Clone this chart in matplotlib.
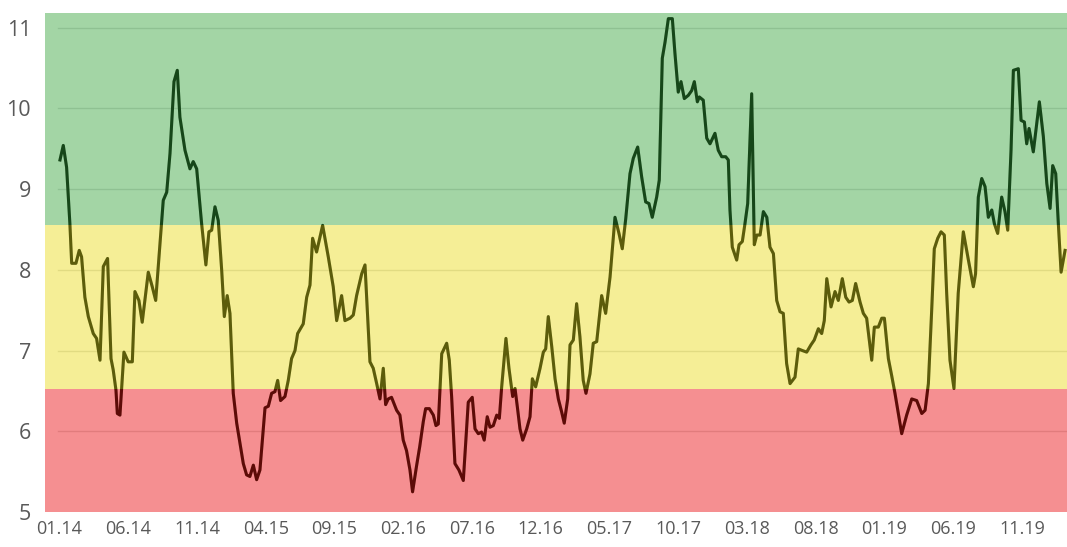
import matplotlib
matplotlib.use("Agg")
import matplotlib.pyplot as plt

# months since Jan 2014 and the index value
months = [0.04, 0.28, 0.52, 0.76, 0.89, 1.2, 1.44, 1.61, 1.85, 2.1, 2.46, 2.7, 2.95,
          3.19, 3.5, 3.75, 3.91, 4.11, 4.21, 4.4, 4.69, 5.0, 5.3, 5.49, 5.78, 6.02,
          6.46, 6.75, 7.0, 7.31, 7.55, 7.8, 8.04, 8.33, 8.57, 8.76, 9.13, 9.49, 9.73,
          9.98, 10.34, 10.65, 10.87, 11.07, 11.31, 11.55, 11.8, 11.99, 12.2, 12.4,
          12.64, 12.89, 13.13, 13.37, 13.61, 13.85, 14.1, 14.34, 14.58, 14.95, 15.19,
          15.43, 15.67, 15.87, 16.08, 16.4, 16.64, 16.88, 17.13, 17.32, 17.73, 17.98,
          18.22, 18.41, 18.7, 19.14, 19.55, 19.91, 20.16, 20.52, 20.76, 21.13, 21.37,
          21.61, 21.98, 22.22, 22.58, 22.82, 23.07, 23.31, 23.55, 23.72, 23.91, 24.15,
          24.52, 24.76, 25.0, 25.24, 25.49, 25.68, 25.96, 26.2, 26.46, 26.63, 26.9,
          27.19, 27.38, 27.55, 27.8, 28.16, 28.35, 28.52, 28.76, 29.05, 29.37, 29.73,
          30.02, 30.22, 30.46, 30.7, 30.89, 31.11, 31.31, 31.55, 31.8, 31.99, 32.16,
          32.47, 32.69, 32.96, 33.13, 33.3, 33.49, 33.69, 33.98, 34.22, 34.39, 34.63,
          34.95, 35.19, 35.36, 35.55, 35.8, 36.04, 36.28, 36.52, 36.71, 36.96, 37.13,
          37.37, 37.61, 37.85, 38.09, 38.29, 38.58, 38.82, 39.07, 39.43, 39.72, 40.04,
          40.4, 40.69, 40.93, 41.18, 41.49, 41.73, 42.05, 42.34, 42.63, 42.87, 43.11,
          43.43, 43.62, 43.84, 44.04, 44.28, 44.57, 44.76, 45.0, 45.2, 45.44, 45.73,
          45.98, 46.17, 46.39, 46.53, 46.82, 47.07, 47.31, 47.67, 47.91, 48.16, 48.45,
          48.64, 48.76, 48.93, 49.25, 49.42, 49.66, 49.85, 50.05, 50.34, 50.53, 50.71,
          50.95, 51.19, 51.44, 51.67, 51.92, 52.16, 52.4, 52.64, 52.88, 53.13, 53.49,
          53.73, 54.02, 54.34, 54.65, 54.89, 55.19, 55.43, 55.62, 55.8, 56.11, 56.4,
          56.64, 56.93, 57.18, 57.42, 57.66, 57.9, 58.22, 58.46, 58.7, 59.07, 59.26,
          59.55, 59.8, 59.99, 60.28, 60.52, 60.76, 61.25, 61.61, 61.98, 62.34, 62.71,
          62.95, 63.19, 63.43, 63.62, 63.87, 64.11, 64.35, 64.52, 64.76, 65.05, 65.36,
          65.73, 66.1, 66.46, 66.62, 66.82, 67.07, 67.31, 67.55, 67.8, 67.99, 68.23,
          68.52, 68.76, 68.96, 69.2, 69.37, 69.73, 69.93, 70.17, 70.34, 70.51, 70.82,
          71.07, 71.26, 71.55, 71.8, 72.04, 72.23, 72.45, 72.64, 72.84, 73.13]
values = [9.36, 9.54, 9.27, 8.57, 8.08, 8.08, 8.24, 8.16, 7.66, 7.42, 7.21, 7.15, 6.88,
          8.04, 8.14, 6.9, 6.76, 6.51, 6.22, 6.2, 6.98, 6.86, 6.86, 7.73, 7.62, 7.35,
          7.97, 7.79, 7.62, 8.32, 8.86, 8.96, 9.44, 10.33, 10.47, 9.89, 9.48, 9.25, 9.34,
          9.25, 8.57, 8.06, 8.47, 8.49, 8.78, 8.61, 7.99, 7.42, 7.68, 7.46,
          6.47, 6.1, 5.85, 5.6, 5.46, 5.44, 5.58, 5.4, 5.52, 6.29, 6.31,
          6.47, 6.49, 6.63, 6.38, 6.43, 6.63, 6.9, 7.0, 7.21, 7.33, 7.66,
          7.81, 8.39, 8.22, 8.55, 8.16, 7.79, 7.37, 7.68, 7.37, 7.4, 7.44,
          7.68, 7.95, 8.06, 6.86, 6.78, 6.59, 6.4, 6.78, 6.33, 6.4, 6.42,
          6.26, 6.2, 5.89, 5.76, 5.52, 5.25, 5.56, 5.81, 6.12, 6.28, 6.28,
          6.2, 6.07, 6.09, 6.96, 7.09, 6.88, 6.43, 5.6, 5.52, 5.39, 6.36,
          6.42, 6.03, 5.97, 5.99, 5.89, 6.18, 6.05, 6.07, 6.2, 6.16, 6.55,
          7.15, 6.78, 6.43, 6.53, 6.3, 6.03, 5.89, 6.03, 6.18, 6.65, 6.55,
          6.78, 6.98, 7.02, 7.42, 7.05, 6.65, 6.4, 6.24, 6.1, 6.4, 7.07,
          7.13, 7.58, 7.17, 6.63, 6.47, 6.71, 7.09, 7.11, 7.68, 7.46, 7.91,
          8.65, 8.45, 8.26, 8.63, 9.19, 9.38, 9.52, 9.15, 8.84, 8.82, 8.65,
          8.9, 9.11, 10.62, 10.82, 11.11, 11.11, 10.68, 10.2, 10.33, 10.12, 10.16,
          10.22, 10.33, 10.08, 10.14, 10.1, 9.63, 9.56, 9.69, 9.48, 9.4, 9.4,
          9.36, 8.74, 8.28, 8.12, 8.31, 8.35, 8.57, 8.82, 10.18, 8.31, 8.43,
          8.43, 8.72, 8.65, 8.28, 8.2, 7.62, 7.48, 7.46, 6.84, 6.59, 6.67,
          7.02, 7.0, 6.98, 7.07, 7.13, 7.27, 7.21, 7.37, 7.89, 7.54, 7.73,
          7.62, 7.89, 7.66, 7.6, 7.62, 7.83, 7.6, 7.46, 7.4, 6.88, 7.29,
          7.29, 7.4, 7.4, 6.9, 6.69, 6.47, 5.97, 6.2, 6.4, 6.38, 6.22,
          6.26, 6.59, 7.5, 8.26, 8.39, 8.47, 8.43, 7.71, 6.88, 6.53, 7.71,
          8.47, 8.12, 7.79, 7.95, 8.9, 9.13, 9.03, 8.65, 8.74, 8.57, 8.45,
          8.9, 8.72, 8.49, 9.48, 10.47, 10.49, 9.85, 9.83, 9.56, 9.75, 9.46,
          9.81, 10.08, 9.65, 9.07, 8.76, 9.29, 9.19, 8.57, 7.97, 8.24]

# zones (low, high) and their colours
zone_bounds = [(5.0, 6.52), (6.52, 8.56), (8.56, 11.2)]
zone_colors = ["#e9080b", "#e9db16", "#33a239"]

tick_months = list(range(0, 71, 5))
tick_labels = ["%02d.%02d" % (m % 12 + 1, 14 + m // 12) for m in tick_months]

fig = plt.figure(figsize=(10.67, 5.47), dpi=100)
ax = fig.add_axes([45 / 1067, 35 / 547, 1022 / 1067, 499 / 547])

x_lo, x_hi = -1.05, 73.27
for yv in range(6, 12):
    ax.plot([-0.1, x_hi], [yv, yv], color="#8a8a8a", lw=1.0, alpha=0.3, zorder=1)

# dark line under the tinted zones, plus a light shade on top to deepen it
ax.plot(months, values, color="#081408", lw=2.2, zorder=2)
ax.plot(months, values, color="black", lw=2.2, alpha=0.15, zorder=4)

for (lo, hi), c in zip(zone_bounds, zone_colors):
    ax.axhspan(lo, hi, color=c, alpha=0.45, lw=0, zorder=3)

ax.set_xlim(x_lo, x_hi)
ax.set_ylim(5.0, 11.18)
ax.set_yticks(range(5, 12))
ax.set_xticks(tick_months)
ax.set_xticklabels(tick_labels)
ax.tick_params(length=0, colors="#595959")
for lab in ax.get_yticklabels():
    lab.set_fontsize(15.5)
    lab.set_family("Open Sans")
for lab in ax.get_xticklabels():
    lab.set_fontsize(13)
    lab.set_family("Open Sans")
ax.tick_params(axis="y", pad=10)
ax.tick_params(axis="x", pad=6)
for s in ax.spines.values():
    s.set_visible(False)

fig.savefig("out.png", dpi=100)
